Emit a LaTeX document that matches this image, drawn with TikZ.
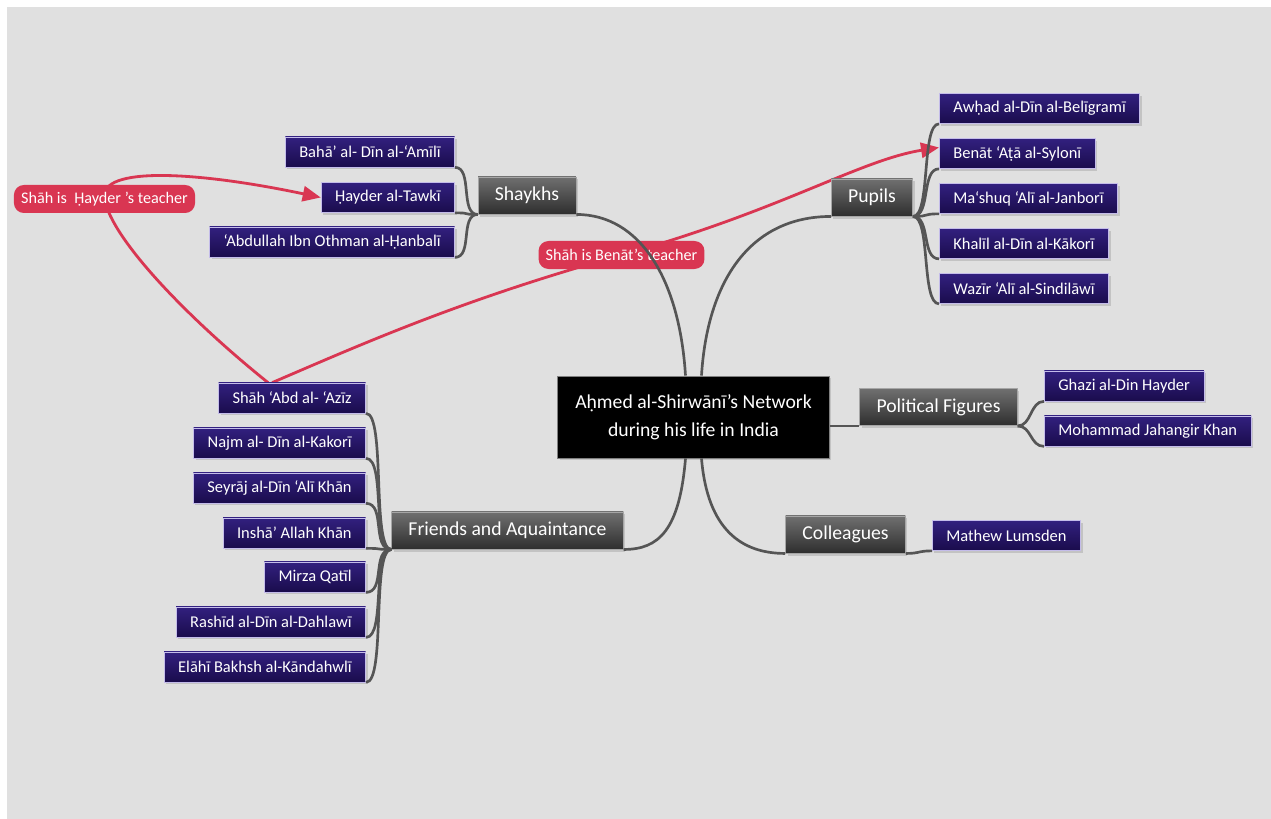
\documentclass[tikz,border=0pt]{standalone}
\usepackage{fontspec}
\setmainfont{Carlito}
\usepackage{xcolor}
\usetikzlibrary{arrows.meta,shadows}
\definecolor{paper}{HTML}{E0E0E0}
\definecolor{leaftop}{HTML}{32207F}
\definecolor{leafbot}{HTML}{1A0C4C}
\definecolor{leafedge}{HTML}{C4BCEA}
\definecolor{branchtop}{HTML}{707070}
\definecolor{branchbot}{HTML}{2E2E2E}
\definecolor{linkgray}{HTML}{555555}
\definecolor{relred}{HTML}{D93652}
\pgfdeclarelayer{bg}
\pgfsetlayers{bg,main}

\begin{document}
\begin{tikzpicture}[x=0.025cm,y=-0.025cm,
      box/.style={align=center,text=white,drop shadow={shadow xshift=0.05cm,shadow yshift=-0.06cm,opacity=0.3}},
      leaf/.style={box,draw=leafedge,line width=0.5pt,top color=leaftop,bottom color=leafbot,minimum height=0.75cm,inner xsep=0.35cm,font=\fontsize{11.7}{13}\selectfont},
      branch/.style={box,draw=gray!70,line width=0.5pt,top color=branchtop,bottom color=branchbot,minimum height=0.93cm,inner xsep=0.42cm,font=\fontsize{14}{16}\selectfont},
      hub/.style={box,draw=gray,line width=0.6pt,fill=black,minimum width=6.78cm,minimum height=2.05cm,font=\fontsize{14}{19.9}\selectfont},
      note/.style={fill=relred,text=white,rounded corners=0.25cm,minimum height=0.7cm,inner xsep=0.18cm,font=\fontsize{11.5}{13}\selectfont},
      link/.style={draw=linkgray,line width=1.9pt},
      rel/.style={draw=relred,line width=2pt},
      relarrow/.style={-{Triangle[length=0.45cm,width=0.38cm]}}
]
\useasboundingbox (0,0) rectangle (1271,819);
\begin{pgfonlayer}{bg}
\fill[white] (0,0) rectangle (1271,819);
\fill[paper] (7,7) rectangle (1271,819);
\end{pgfonlayer}

\node[hub] (hub) at (693.5,417) {Aḥmed al-Shirwānī's Network\\during his life in India};

\node[branch] (shaykhs) at (527,195.5) {Shaykhs};
\node[branch] (pupils) at (872,197.5) {Pupils};
\node[branch] (political) at (938.5,407) {Political Figures};
\node[branch] (friends) at (507.5,530.5) {Friends and Aquaintance};
\node[branch] (colleagues) at (845.5,534.5) {Colleagues};

\foreach \name/\y/\txt in {baha/152/{Bahā’ al- Dīn al-‘Amīlī},hayder/197.5/{Ḥayder al-Tawkī},abdullah/242/{‘Abdullah Ibn Othman al-Ḥanbalī}}
      \node[leaf,anchor=east] (\name) at (455,\y) {\txt};
\foreach \name/\y/\txt in {awhad/108.5/{Awḥad al-Dīn al-Belīgramī},benat/153.5/{Benāt ‘Aṭā al-Sylonī},mashuq/198.5/{Ma‘shuq ‘Alī al-Janborī},khalil/243.5/{Khalīl al-Dīn al-Kākorī},wazir/288.5/{Wazīr ‘Alī al-Sindilāwī}}
      \node[leaf,anchor=west] (\name) at (939,\y) {\txt};
\foreach \name/\y/\txt in {ghazi/386/{Ghazi al-Din Hayder},jahangir/431/{Mohammad Jahangir Khan}}
      \node[leaf,anchor=west] (\name) at (1044,\y) {\txt};
\node[leaf,anchor=west] (mathew) at (932,535.5) {Mathew Lumsden};
\foreach \name/\y/\txt in {shah/398/{Shāh ‘Abd al- ‘Azīz},najm/443/{Najm al- Dīn al-Kakorī},seyraj/488/{Seyrāj al-Dīn ‘Alī Khān},insha/533/{Inshā’ Allah Khān},mirza/577/{Mirza Qatīl},rashid/622/{Rashīd al-Dīn al-Dahlawī},elahi/667/{Elāhī Bakhsh al-Kāndahwlī}}
      \node[leaf,anchor=east] (\name) at (366,\y) {\txt};

\node[note] (hnote) at (104.5,199) {Shāh is\ \ Ḥayder 's teacher};
\node[note] (bnote) at (621.5,255) {Shāh is Benāt's teacher};

\draw[link] ([xshift=-0.2cm]hub.north) .. controls +(-6,-96) and +(64,0) .. (shaykhs.south east);
\draw[link] ([xshift=0.2cm]hub.north) .. controls +(6,-96) and +(-80,0) .. (pupils.south west);
\draw[link] ([xshift=-0.2cm]hub.south) .. controls +(-6,72) and +(35,0) .. (friends.south east);
\draw[link] ([xshift=0.2cm]hub.south) .. controls +(6,72) and +(-43,0) .. (colleagues.south west);
\draw[link] (hub.east |- political.south) -- (political.south west);

\foreach \leaf in {baha,hayder,abdullah}
      \draw[link] (shaykhs.south west) .. controls +(-18,0) and +(18,0) .. (\leaf.south east);
\foreach \leaf in {awhad,benat,mashuq,khalil,wazir}
      \draw[link] (pupils.south east) .. controls +(18,0) and +(-18,0) .. (\leaf.south west);
\foreach \leaf in {ghazi,jahangir}
      \draw[link] (political.south east) .. controls +(14,0) and +(-14,0) .. (\leaf.south west);
\draw[link] (colleagues.south east) .. controls +(14,0) and +(-14,0) .. (mathew.south west);
\foreach \leaf in {shah,najm,seyraj,insha,mirza,rashid,elahi}
      \draw[link] (friends.south west) .. controls +(-20,0) and +(20,0) .. (\leaf.south east);

\begin{pgfonlayer}{bg}
\draw[rel] ([xshift=-0.6cm]shah.north) .. controls (190,320) and (112,240) .. (hnote.center);
\draw[rel,relarrow] (hnote.center) .. controls (98,165) and (200,172) .. (hayder.west);
\draw[rel] ([xshift=-0.5cm]shah.north) .. controls (360,345) and (460,300) .. (bnote.center);
\draw[rel,relarrow] (bnote.center) .. controls (780,211) and (860,160) .. ([yshift=0.15cm]benat.west);
\end{pgfonlayer}
\end{tikzpicture}
\end{document}
